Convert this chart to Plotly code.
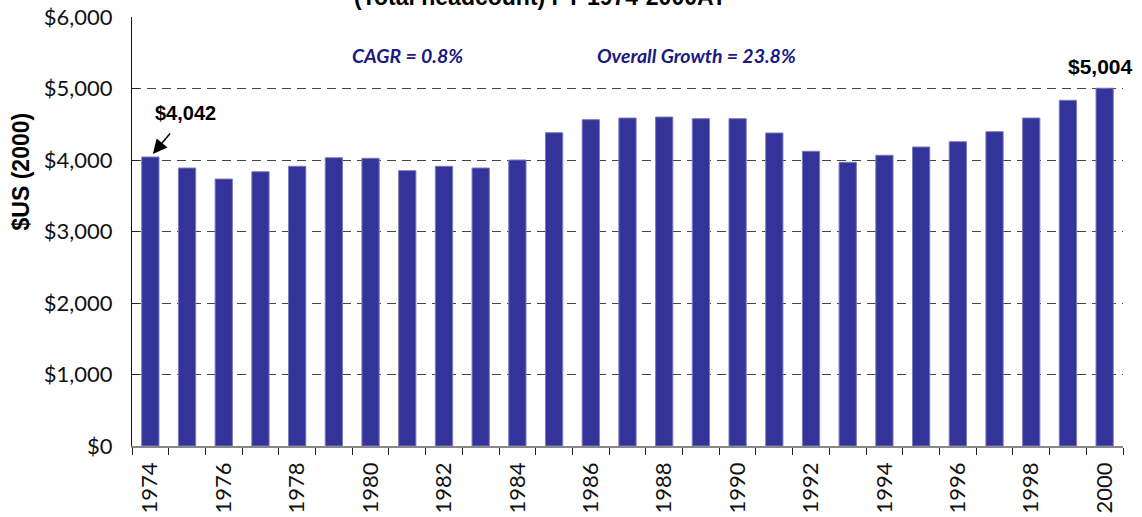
import plotly.graph_objects as go

years = [str(y) for y in range(1974, 2001)]
values = [4042, 3888, 3734, 3836, 3912, 4032, 4024, 3851, 3912, 3888, 4000,
          4382, 4564, 4587, 4601, 4578, 4578, 4378, 4122, 3968, 4066, 4182,
          4256, 4396, 4587, 4835, 5004]
tick_labels = [y if int(y) % 2 == 0 else "" for y in years]
y_ticks = [0, 1000, 2000, 3000, 4000, 5000, 6000]
y_tick_text = ["$0", "$1,000", "$2,000", "$3,000", "$4,000", "$5,000", "$6,000"]

first_idx = 0
last_idx = len(years) - 1

fig = go.Figure()
fig.add_trace(go.Bar(
    x=years, y=values,
    marker=dict(color="#333399", line=dict(color="#7a7abf", width=1)),
    hoverinfo="x+y",
))

tick_font = dict(family="Lato, sans-serif", size=22, color="#111111")

fig.update_layout(
    width=1142, height=517,
    margin=dict(l=132, r=19, t=17, b=71),
    paper_bgcolor="white", plot_bgcolor="white",
    bargap=0.53,
    showlegend=False,
    xaxis=dict(
        type="category",
        range=[-0.5, len(years) - 0.5],
        tickvals=years, ticktext=tick_labels,
        tickson="boundaries",
        ticks="outside", ticklen=7, tickcolor="#222222", tickwidth=1,
        tickangle=-90,
        tickfont=tick_font,
        ticklabelstandoff=6,
        showline=True, linecolor="#888888", linewidth=1.5,
        showgrid=False,
        automargin=False,
    ),
    yaxis=dict(
        range=[0, 6000],
        tickvals=y_ticks, ticktext=y_tick_text,
        ticks="inside", ticklen=7, tickcolor="#222222",
        tickfont=tick_font,
        ticklabelstandoff=14,
        showline=True, linecolor="#111111", linewidth=1,
        showgrid=True, gridcolor="#444444", gridwidth=1, griddash="9px,6px",
        zeroline=False,
        automargin=False,
    ),
    annotations=[
        dict(text="<b>(Total headcount) FY 1974-2000AY</b>", xref="paper", yref="paper",
             x=0.412, y=1.0, yshift=5, xanchor="center", yanchor="bottom", showarrow=False,
             font=dict(family="Liberation Sans, Arial, sans-serif", size=23, color="black")),
        dict(text="<b>$US (2000)</b>", xref="paper", yref="paper",
             x=-0.112, y=0.64, xanchor="center", yanchor="middle", textangle=-90,
             showarrow=False,
             font=dict(family="Liberation Sans, Arial, sans-serif", size=23, color="black")),
        dict(text="<b><i>CAGR = 0.8%</i></b>", xref="paper", yref="paper",
             x=0.2785, y=0.911, xanchor="center", yanchor="middle", showarrow=False,
             font=dict(family="Lato, sans-serif", size=19.5, color="#1a1a80")),
        dict(text="<b><i>Overall Growth = 23.8%</i></b>", xref="paper", yref="paper",
             x=0.570, y=0.911, xanchor="center", yanchor="middle", showarrow=False,
             font=dict(family="Lato, sans-serif", size=19.5, color="#1a1a80")),
        dict(text="<b>$4,042</b>", x=first_idx, y=values[first_idx], xref="x", yref="y",
             xshift=35, yshift=44, showarrow=False,
             font=dict(family="Liberation Sans, Arial, sans-serif", size=20, color="black")),
        dict(text="", x=first_idx, y=values[first_idx], xref="x", yref="y",
             showarrow=True, arrowhead=2, arrowsize=1.9, arrowwidth=1.5, arrowcolor="black",
             ax=21, ay=-25, standoff=4),
        dict(text="<b>$5,004</b>", x=last_idx, y=values[last_idx], xref="x", yref="y",
             xshift=-4, yshift=22, showarrow=False,
             font=dict(family="Liberation Sans, Arial, sans-serif", size=21, color="black")),
    ],
)

fig.write_html(
    "out.html",
    config={"displayModeBar": False},
    post_script="document.body.style.margin='0';document.body.style.padding='0';",
)
